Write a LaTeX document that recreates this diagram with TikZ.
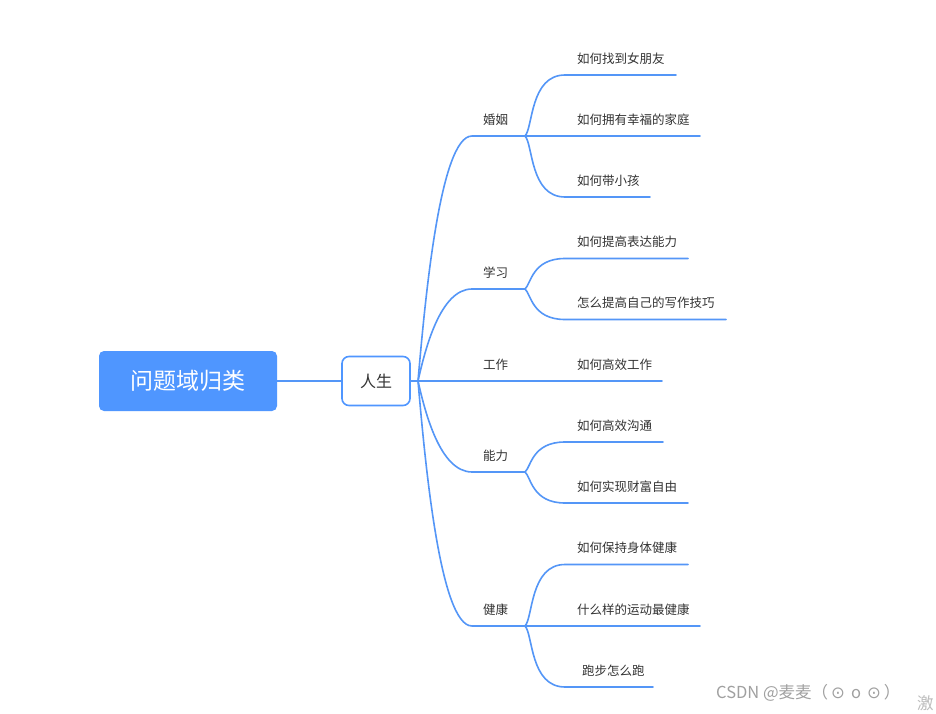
\documentclass[tikz,border=0pt]{standalone}
\usepackage{fontspec}
\setmainfont{Noto Sans CJK SC}
\newfontfamily\symfont{DejaVu Sans}
\definecolor{mblue}{RGB}{79,150,255}
\definecolor{lblue}{RGB}{84,150,247}
\definecolor{txt}{RGB}{51,51,51}
\definecolor{wm}{RGB}{160,160,160}
\begin{document}
\begin{tikzpicture}[x=1pt,y=-1pt,
  conn/.style={draw=lblue, line width=1.6pt, line cap=round},
  lbl/.style={font=\fontsize{12.5}{14}\selectfont, text=txt, inner sep=0pt, anchor=west},
  rootbox/.style={fill=mblue, rounded corners=5pt, minimum width=178pt, minimum height=60pt, inner sep=0pt, text=white, font=\fontsize{23}{26}\selectfont},
  lifebox/.style={draw=mblue, fill=white, line width=1.6pt, rounded corners=7pt, minimum width=68pt, minimum height=49pt, inner sep=0pt, text=txt, font=\fontsize{16}{18}\selectfont},
  wmtext/.style={text=wm, inner sep=0pt, anchor=west, font=\fontsize{16.5}{18}\selectfont}
]
\useasboundingbox (0,0) rectangle (936,714);
\fill[white] (0,0) rectangle (936,714);

% main nodes
\node[rootbox] (root) at (188,381) {问题域归类};
\node[lifebox] (life) at (376,381) {人生};
\draw[conn] (root.east) -- (life.west);

\coordinate (j0) at (418,381);
\draw[conn] (life.east) -- (j0);

% branch coordinates (start, junction)
\coordinate (b1s) at (472,136); \coordinate (b1j) at (525,136);
\coordinate (b2s) at (472,289); \coordinate (b2j) at (525,289);
\coordinate (b4s) at (472,472); \coordinate (b4j) at (525,472);
\coordinate (b5s) at (472,626); \coordinate (b5j) at (525,626);
\coordinate (b3e) at (662,381);

% main curves
\draw[conn] (j0) .. controls (425,300) and (440,136) .. (b1s) -- (b1j);
\draw[conn] (j0) .. controls (425,350) and (440,289) .. (b2s) -- (b2j);
\draw[conn] (j0) -- (b3e);
\draw[conn] (j0) .. controls (425,412) and (440,472) .. (b4s) -- (b4j);
\draw[conn] (j0) .. controls (425,462) and (440,626) .. (b5s) -- (b5j);

% branch labels
\node[lbl] (l1) at (483,119.5) {婚姻};
\node[lbl] (l2) at (483,272.5) {学习};
\node[lbl] (l3) at (483,364.5) {工作};
\node[lbl] (l4) at (483,455.5) {能力};
\node[lbl] (l5) at (483,609.5) {健康};

% sub-branch coordinates
\coordinate (s11) at (565,75);   \coordinate (e11) at (676,75);
\coordinate (e12) at (700,136);
\coordinate (s13) at (565,197);  \coordinate (e13) at (650,197);
\coordinate (s21) at (565,258.5);\coordinate (e21) at (688,258.5);
\coordinate (s22) at (565,319.5);\coordinate (e22) at (726,319.5);
\coordinate (s41) at (565,442);  \coordinate (e41) at (663,442);
\coordinate (s42) at (565,503);  \coordinate (e42) at (688,503);
\coordinate (s51) at (565,564.5);\coordinate (e51) at (688,564.5);
\coordinate (e52) at (700,626);
\coordinate (s53) at (565,687);  \coordinate (e53) at (653,687);

% sub curves
\draw[conn] (b1j) .. controls (533,128) and (530,75) .. (s11) -- (e11);
\draw[conn] (b1j) -- (e12);
\draw[conn] (b1j) .. controls (533,144) and (530,197) .. (s13) -- (e13);
\draw[conn] (b2j) .. controls (531,284) and (532,258.5) .. (s21) -- (e21);
\draw[conn] (b2j) .. controls (531,294) and (532,319.5) .. (s22) -- (e22);
\draw[conn] (b4j) .. controls (531,467) and (532,442) .. (s41) -- (e41);
\draw[conn] (b4j) .. controls (531,477) and (532,503) .. (s42) -- (e42);
\draw[conn] (b5j) .. controls (533,618) and (530,564.5) .. (s51) -- (e51);
\draw[conn] (b5j) -- (e52);
\draw[conn] (b5j) .. controls (533,634) and (530,687) .. (s53) -- (e53);

% leaf labels
\node[lbl] (t11) at (577,58.5) {如何找到女朋友};
\node[lbl] (t12) at (577,119.5) {如何拥有幸福的家庭};
\node[lbl] (t13) at (577,180.5) {如何带小孩};
\node[lbl] (t21) at (577,242) {如何提高表达能力};
\node[lbl] (t22) at (577,303) {怎么提高自己的写作技巧};
\node[lbl] (t31) at (577,364.5) {如何高效工作};
\node[lbl] (t41) at (577,425.5) {如何高效沟通};
\node[lbl] (t42) at (577,486.5) {如何实现财富自由};
\node[lbl] (t51) at (577,548) {如何保持身体健康};
\node[lbl] (t52) at (577,609.5) {什么样的运动最健康};
\node[lbl] (t53) at (582,670.5) {跑步怎么跑};

% watermark
\node[wmtext] (wm1) at (716,693) {CSDN @麦麦（\hspace{3pt}{\symfont ⊙}\hspace{6pt}o\hspace{6pt}{\symfont ⊙}\hspace{3pt}）};
\begin{scope}
\clip (900,680) rectangle (936,714);
\node[wmtext, text=wm!70] (wm2) at (917,703) {激};
\end{scope}
\end{tikzpicture}
\end{document}
